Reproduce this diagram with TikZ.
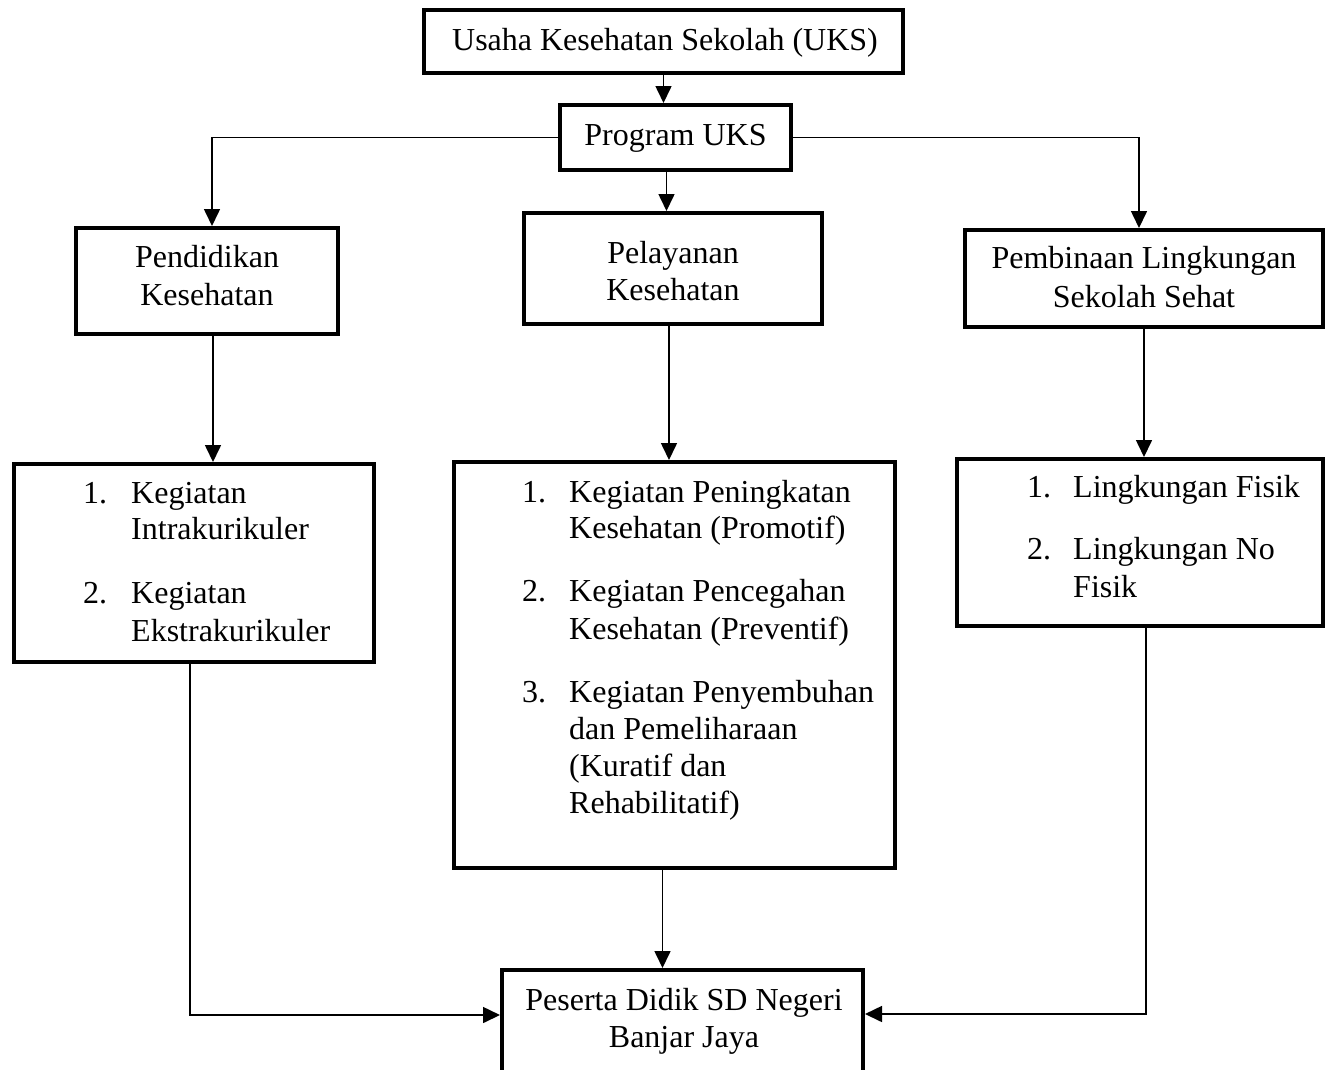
\documentclass[tikz,border=0pt]{standalone}
\usepackage{fontspec}
\setmainfont{Liberation Serif}
\usetikzlibrary{arrows.meta}
\begin{document}
\begin{tikzpicture}[x=1pt,y=-1pt,
 box/.style={draw, line width=4pt, inner sep=0pt},
 conn/.style={line width=1.6pt},
 arr/.style={conn, -{Triangle[width=16pt,length=17pt]}},
 txt/.style={anchor=base, inner sep=0pt, font=\fontsize{32}{37}\selectfont},
 ltxt/.style={anchor=base west, inner sep=0pt, font=\fontsize{32}{37}\selectfont}]
\useasboundingbox (0,0) rectangle (1330,1069);
\fill[white] (0,0) rectangle (1330,1069);
\clip (0,0) rectangle (1330,1069);

% boxes
\node[box, minimum width=479pt, minimum height=63pt] (top) at (663.5,41.5) {};
\node[box, minimum width=231pt, minimum height=65pt] (prog) at (675.5,137.5) {};
\node[box, minimum width=262pt, minimum height=106pt] (pend) at (207,281) {};
\node[box, minimum width=298pt, minimum height=111pt] (pel) at (673,268.5) {};
\node[box, minimum width=358pt, minimum height=97pt] (pemb) at (1144,278.5) {};
\node[box, minimum width=360pt, minimum height=198pt] (list1) at (194,563) {};
\node[box, minimum width=441pt, minimum height=406pt] (list2) at (674.5,665) {};
\node[box, minimum width=366pt, minimum height=167pt] (list3) at (1140,542.5) {};
\node[box, minimum width=361pt, minimum height=130pt] (bot) at (682.5,1035) {};

% texts
\node[txt] (t1) at (665,50) {Usaha Kesehatan Sekolah (UKS)};
\node[txt] (t2) at (675.5,145) {Program UKS};
\node[txt] (t3a) at (207,267) {Pendidikan};
\node[txt] (t3b) at (207,305) {Kesehatan};
\node[txt] (t4a) at (673,263) {Pelayanan};
\node[txt] (t4b) at (673,300) {Kesehatan};
\node[txt] (t5a) at (1144,268) {Pembinaan Lingkungan};
\node[txt] (t5b) at (1144,307) {Sekolah Sehat};

\node[ltxt] (l1n1) at (83,503) {1.};
\node[ltxt] (l1a) at (131,503) {Kegiatan};
\node[ltxt] (l1b) at (131,539) {Intrakurikuler};
\node[ltxt] (l1n2) at (83,603) {2.};
\node[ltxt] (l1c) at (131,603) {Kegiatan};
\node[ltxt] (l1d) at (131,641) {Ekstrakurikuler};

\node[ltxt] (l2n1) at (522,502) {1.};
\node[ltxt] (l2a) at (569,502) {Kegiatan Peningkatan};
\node[ltxt] (l2b) at (569,538) {Kesehatan (Promotif)};
\node[ltxt] (l2n2) at (522,601) {2.};
\node[ltxt] (l2c) at (569,601) {Kegiatan Pencegahan};
\node[ltxt] (l2d) at (569,639) {Kesehatan (Preventif)};
\node[ltxt] (l2n3) at (522,702) {3.};
\node[ltxt] (l2e) at (569,702) {Kegiatan Penyembuhan};
\node[ltxt] (l2f) at (569,739) {dan Pemeliharaan};
\node[ltxt] (l2g) at (569,776) {(Kuratif dan};
\node[ltxt] (l2h) at (569,813) {Rehabilitatif)};

\node[ltxt] (l3n1) at (1027,497) {1.};
\node[ltxt] (l3a) at (1073,497) {Lingkungan Fisik};
\node[ltxt] (l3n2) at (1027,559) {2.};
\node[ltxt] (l3b) at (1073,559) {Lingkungan No};
\node[ltxt] (l3c) at (1073,597) {Fisik};

\node[txt] (b1) at (684,1010) {Peserta Didik SD Negeri};
\node[txt] (b2) at (684,1047) {Banjar Jaya};

% connectors
\draw[arr] (top.south) -- (top.south |- prog.north);
\draw[arr] (prog.west) -| ([xshift=5pt]pend.north);
\draw[arr] ([xshift=-9pt]prog.south) -- ([xshift=-9pt]prog.south |- pel.north);
\draw[arr] (prog.east) -| ([xshift=-5pt]pemb.north);
\draw[arr] ([xshift=6pt]pend.south) -- ([xshift=6pt]pend.south |- list1.north);
\draw[arr] ([xshift=-4pt]pel.south) -- ([xshift=-4pt]pel.south |- list2.north);
\draw[arr] (pemb.south) -- (pemb.south |- list3.north);
\draw[arr] ([xshift=-4pt]list1.south) |- ([yshift=20pt]bot.west);
\draw[arr] ([xshift=-12pt]list2.south) -- ([xshift=-12pt]list2.south |- bot.north);
\draw[arr] ([xshift=6pt]list3.south) |- ([yshift=21pt]bot.east);
\end{tikzpicture}
\end{document}
